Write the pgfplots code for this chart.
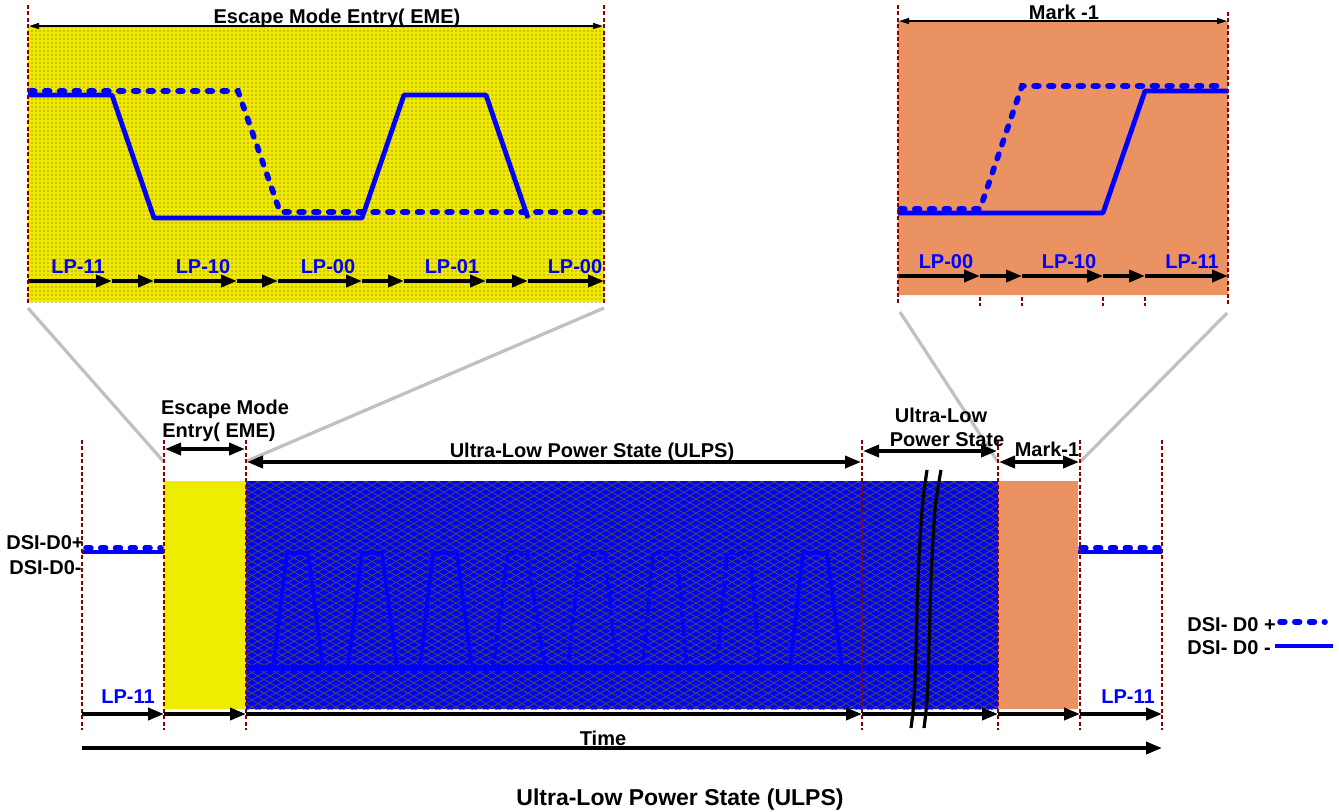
\documentclass[border=0pt]{standalone}
\usepackage{pgfplots}
\pgfplotsset{compat=1.18}
\usepackage{fontspec}
\setmainfont{Liberation Sans}
\usetikzlibrary{arrows.meta,patterns.meta}
\definecolor{dred}{RGB}{140,0,0}
\definecolor{yel}{RGB}{238,236,0}
\definecolor{yeltop}{RGB}{240,234,0}
\definecolor{yeldot}{RGB}{165,155,0}
\definecolor{org}{RGB}{234,146,98}
\definecolor{sblue}{RGB}{0,0,255}
\definecolor{lgray}{RGB}{192,192,192}
\begin{document}
\begin{tikzpicture}[
  sig/.style={sblue, line width=2.4pt, line join=round},
  sigd/.style={sblue, line width=2.8pt, line cap=round, dash pattern=on 2.4pt off 5pt},
  psig/.style={sblue, line width=1.9pt, line join=round},
  psigd/.style={sblue, line width=1.9pt, dash pattern=on 3pt off 1.5pt},
  arr/.style={black, line width=1.8pt, -{Triangle[length=8pt,width=6pt]}},
  darr/.style={black, line width=1.8pt, {Triangle[length=8pt,width=6pt]}-{Triangle[length=8pt,width=6pt]}},
  tarr/.style={black, line width=0.7pt, {Triangle[length=5pt,width=3pt]}-{Triangle[length=5pt,width=3pt]}},
  rdot/.style={dred, line width=1.4pt, dash pattern=on 2pt off 1.2pt},
  gline/.style={lgray, line width=1.6pt},
  lbl/.style={font=\fontsize{10}{12}\selectfont\bfseries, inner sep=0pt, anchor=base, black},
  lp/.style={font=\fontsize{10}{12}\selectfont\bfseries, inner sep=0pt, anchor=base, sblue},
]
\begin{axis}[
  scale only axis, width=669.5pt, height=405.5pt,
  xmin=0, xmax=1339, ymin=0, ymax=811, y dir=reverse,
  hide axis, clip=false,
]
% invisible frame
\addplot[draw=none] coordinates {(0,0) (1339,811)};

% ===== Top-left inset (Escape Mode Entry) =====
\addplot[fill=yeltop, draw=none] coordinates {(28,27) (604,27) (604,302) (28,302) (28,27)};
\addplot[draw=none, pattern={Dots[radius=0.45pt,distance=2pt]}, pattern color=yeldot] coordinates {(28,27) (604,27) (604,302) (28,302) (28,27)};
\addplot[sigd] coordinates {(30,91) (238,91) (280,212) (602,212)};
\addplot[sig] coordinates {(28,95) (112,95) (154,218) (362,218) (404,95) (486,95) (528,218)};
\addplot[arr] coordinates {(28,281) (112,281)};
\addplot[arr] coordinates {(112,281) (154,281)};
\addplot[arr] coordinates {(154,281) (237,281)};
\addplot[arr] coordinates {(237,281) (278,281)};
\addplot[arr] coordinates {(278,281) (362,281)};
\addplot[arr] coordinates {(362,281) (404,281)};
\addplot[arr] coordinates {(404,281) (486,281)};
\addplot[arr] coordinates {(486,281) (528,281)};
\addplot[arr] coordinates {(528,281) (604,281)};
\addplot[rdot] coordinates {(28,5) (28,305)};
\addplot[rdot] coordinates {(604,5) (604,305)};
\addplot[tarr] coordinates {(29,26) (603,26)};
\node[lbl] at (axis cs:337,23) {Escape Mode Entry( EME)};
\node[lp] at (axis cs:78,273) {LP-11};
\node[lp] at (axis cs:203,273) {LP-10};
\node[lp] at (axis cs:328,273) {LP-00};
\node[lp] at (axis cs:452,273) {LP-01};
\node[lp] at (axis cs:575,273) {LP-00};

% ===== Top-right inset (Mark-1) =====
\addplot[fill=org, draw=none] coordinates {(898,21) (1228,21) (1228,295) (898,295) (898,21)};
\addplot[sigd] coordinates {(900,209) (980,209) (1022,86) (1226,86)};
\addplot[sig] coordinates {(898,213) (1103,213) (1145,91) (1228,91)};
\addplot[arr] coordinates {(898,276) (980,276)};
\addplot[arr] coordinates {(980,276) (1022,276)};
\addplot[arr] coordinates {(1022,276) (1103,276)};
\addplot[arr] coordinates {(1103,276) (1145,276)};
\addplot[arr] coordinates {(1145,276) (1228,276)};
\addplot[rdot] coordinates {(898,5) (898,305)};
\addplot[rdot] coordinates {(1228,12) (1228,305)};
\addplot[rdot] coordinates {(980,297) (980,306)};
\addplot[rdot] coordinates {(1022,297) (1022,306)};
\addplot[rdot] coordinates {(1103,297) (1103,306)};
\addplot[rdot] coordinates {(1145,297) (1145,306)};
\addplot[tarr] coordinates {(899,21) (1227,21)};
\node[lbl] at (axis cs:1064,19) {Mark -1};
\node[lp] at (axis cs:946,268) {LP-00};
\node[lp] at (axis cs:1069,268) {LP-10};
\node[lp] at (axis cs:1192,268) {LP-11};

% ===== zoom guide lines =====
\addplot[gline] coordinates {(28,308) (164,462)};
\addplot[gline] coordinates {(604,308) (247,461)};
\addplot[gline] coordinates {(900,312) (998,462)};
\addplot[gline] coordinates {(1227,313) (1080,462)};

% ===== Main diagram =====
\addplot[fill=yel, draw=none] coordinates {(164,481) (246,481) (246,709) (164,709) (164,481)};
\addplot[fill=sblue, draw=none] coordinates {(246,481) (998,481) (998,709) (246,709) (246,481)};
\addplot[fill=org, draw=none] coordinates {(998,481) (1078,481) (1078,709) (998,709) (998,481)};
% cross hatch
\addplot[draw=none, pattern={Lines[angle=30,distance=3pt,line width=0.4pt]}, pattern color=black!70] coordinates {(246,481) (998,481) (998,709) (246,709) (246,481)};
\addplot[draw=none, pattern={Lines[angle=-30,distance=3pt,line width=0.4pt]}, pattern color=black!70] coordinates {(246,481) (998,481) (998,709) (246,709) (246,481)};
% pulses inside ULPS
\addplot[psig] coordinates {(273,668) (287,553) (308,553) (323,668)};
\addplot[psig] coordinates {(348,668) (362,553) (382,553) (397,668)};
\addplot[psig] coordinates {(420,668) (433,553) (457,553) (472,668)};
\addplot[psigd] coordinates {(493,668) (508,553) (527,553) (545,668)};
\addplot[psigd] coordinates {(568,668) (580,553) (605,553) (617,668)};
\addplot[psigd] coordinates {(643,668) (653,553) (677,553) (687,668)};
\addplot[psigd] coordinates {(717,668) (727,553) (750,553) (760,668)};
\addplot[psig] coordinates {(790,668) (803,553) (827,553) (842,668)};
\addplot[sblue, line width=3.2pt] coordinates {(246,668) (998,668)};

% break marks
\addplot[black, line width=1.6pt, smooth] coordinates {(927,470) (922,510) (918,580) (916,650) (914,700) (911,728)};
\addplot[black, line width=1.6pt, smooth] coordinates {(941,470) (935,510) (931,580) (929,650) (927,700) (924,728)};

% side signals
\addplot[sig] coordinates {(82,552) (164,552)};
\addplot[sigd] coordinates {(86,548) (161,548)};
\addplot[sig] coordinates {(1078,552) (1162,552)};
\addplot[sigd] coordinates {(1081,548) (1159,548)};

% dotted boundaries
\addplot[rdot] coordinates {(82,440) (82,730)};
\addplot[rdot] coordinates {(164,440) (164,730)};
\addplot[rdot] coordinates {(246,440) (246,730)};
\addplot[rdot] coordinates {(862,440) (862,730)};
\addplot[rdot] coordinates {(998,440) (998,730)};
\addplot[rdot] coordinates {(1080,440) (1080,730)};
\addplot[rdot] coordinates {(1162,440) (1162,730)};

% duration arrows
\addplot[darr] coordinates {(165,449) (245,449)};
\addplot[darr] coordinates {(247,462) (861,462)};
\addplot[darr] coordinates {(863,451) (997,451)};
\addplot[darr] coordinates {(999,462) (1079,462)};

% bottom arrows
\addplot[arr] coordinates {(82,714) (164,714)};
\addplot[arr] coordinates {(164,714) (246,714)};
\addplot[arr] coordinates {(246,714) (862,714)};
\addplot[arr] coordinates {(862,714) (998,714)};
\addplot[arr] coordinates {(998,714) (1080,714)};
\addplot[arr] coordinates {(1080,714) (1162,714)};
\addplot[arr] coordinates {(82,748) (1162,748)};

% labels
\node[lbl] at (axis cs:225,414) {Escape Mode};
\node[lbl] at (axis cs:219,437) {Entry( EME)};
\node[lbl] at (axis cs:592,457) {Ultra-Low Power State (ULPS)};
\node[lbl] at (axis cs:941,422) {Ultra-Low};
\node[lbl] at (axis cs:947,446) {Power State};
\node[lbl] at (axis cs:1047,456) {Mark-1};
\node[lbl, anchor=base east] at (axis cs:84,549) {DSI-D0+};
\node[lbl, anchor=base east] at (axis cs:82,574) {DSI-D0-};
\node[lp] at (axis cs:128,703) {LP-11};
\node[lp] at (axis cs:1128,703) {LP-11};
\node[lbl] at (axis cs:603,745) {Time};
\node[lbl, font=\fontsize{11.5}{13}\selectfont\bfseries] at (axis cs:680,805) {Ultra-Low Power State (ULPS)};

% legend
\node[lbl, anchor=base west] at (axis cs:1187,631) {DSI- D0 +};
\node[lbl, anchor=base west] at (axis cs:1187,654) {DSI- D0 -};
\addplot[sigd] coordinates {(1280,622) (1325,622)};
\addplot[sig] coordinates {(1275,646) (1333,646)};
\end{axis}
\end{tikzpicture}
\end{document}
